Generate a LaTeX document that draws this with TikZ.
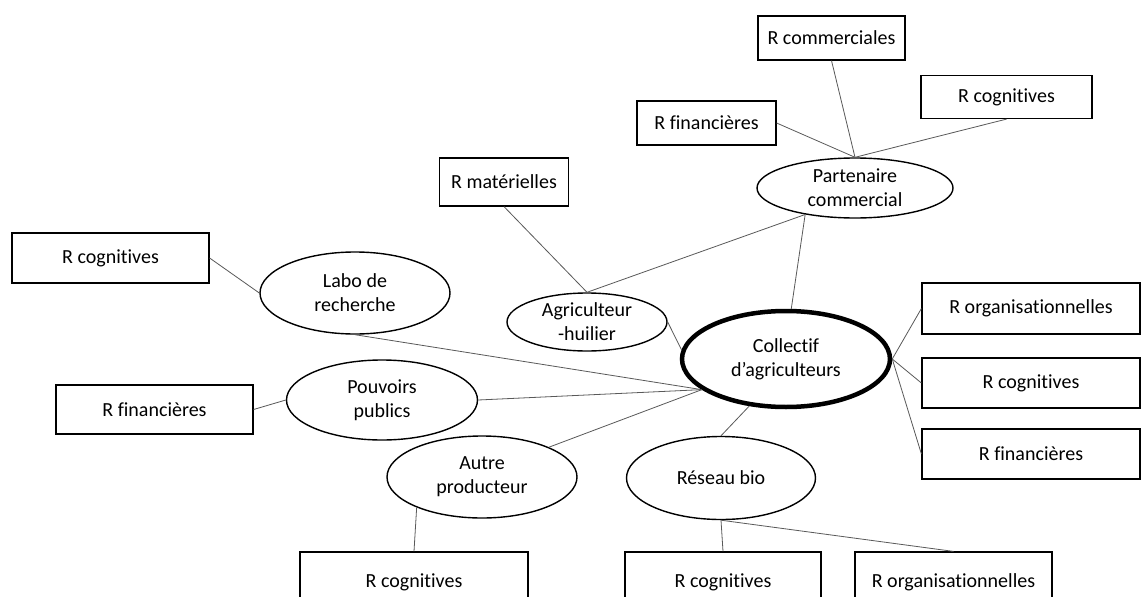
\documentclass[tikz,border=0pt]{standalone}
\usepackage{fontspec}
\setmainfont[Ligatures=NoCommon]{Carlito}
\usepackage{tikz}
\usetikzlibrary{shapes.geometric,positioning,calc}

\tikzset{
  res/.style={draw, rectangle, line width=1.2pt, inner sep=0pt, font=\fontsize{20pt}{24pt}\selectfont},
  actor/.style={draw, ellipse, line width=1.4pt, inner sep=0pt, align=center, font=\fontsize{20pt}{24pt}\selectfont},
  link/.style={draw=black!65, line width=0.8pt}
}

\begin{document}
\begin{tikzpicture}[x=1pt, y=-1pt]

% page frame
\clip (0,0) rectangle (1141,597);
\fill[white] (0,0) rectangle (1141,597);

% Central actor
\node[actor, line width=4.5pt, minimum width=208pt, minimum height=96pt] (collectif) at (786, 359) {Collectif\\d’agriculteurs};

% Partner actors
\node[actor, minimum width=196pt, minimum height=60pt] (partner) at (855, 188) {Partenaire\\commercial};
\node[actor, minimum width=160pt, minimum height=58pt] (agri) at (587, 322) {Agriculteur\\-huilier};
\node[actor, minimum width=190pt, minimum height=82pt] (labo) at (355, 293) {Labo de\\recherche};
\node[actor, minimum width=191pt, minimum height=80pt] (pouvoirs) at (382, 400) {Pouvoirs\\publics};
\node[actor, minimum width=190pt, minimum height=82pt] (autre) at (482, 477) {Autre\\producteur};
\node[actor, minimum width=189pt, minimum height=83pt] (reseau) at (721, 478) {Réseau bio};

% Resources (top)
\node[res, minimum width=147pt, minimum height=44pt] (rcomT) at (831.5, 38) {R commerciales};
\node[res, minimum width=139pt, minimum height=44pt] (rfinT) at (706.5, 123) {R financières};
\node[res, minimum width=171pt, minimum height=43pt] (rcogT) at (1006.5, 97) {R cognitives};
\node[res, minimum width=129pt, minimum height=48pt] (rmat) at (504, 182) {R matérielles};

% Resources (left)
\node[res, minimum width=197pt, minimum height=50pt] (rcogL) at (110.5, 258) {R cognitives};
\node[res, minimum width=197pt, minimum height=49pt] (rfinL) at (154.5, 409.5) {R financières};

% Resources (right)
\node[res, minimum width=218pt, minimum height=51pt] (rorgR) at (1031, 308.5) {R organisationnelles};
\node[res, minimum width=218pt, minimum height=50pt] (rcogR) at (1031, 383) {R cognitives};
\node[res, minimum width=218pt, minimum height=50pt] (rfinR) at (1031, 454) {R financières};

% Resources (bottom, cut by the page)
\node[res, minimum width=228pt, minimum height=60pt] (rcogB) at (414, 582) {R cognitives};
\node[res, minimum width=196pt, minimum height=60pt] (rcogC) at (723, 582) {R cognitives};
\node[res, minimum width=197pt, minimum height=60pt] (rorgB) at (953.5, 582) {R organisationnelles};

% Links to the collective
\draw[link] (partner.208) -- (collectif.84);
\draw[link] (agri.east) -- (collectif.175);
\draw[link] (labo.south) -- (collectif.200);
\draw[link] (pouvoirs.east) -- (collectif.200);
\draw[link] (autre.24) -- (collectif.200);
\draw[link] (reseau.north) -- (collectif.232);
\draw[link] (collectif.east) -- (rorgR.west);
\draw[link] (collectif.east) -- (rcogR.west);
\draw[link] (collectif.east) -- (rfinR.west);

% Links between actors
\draw[link] (partner.208) -- (agri.north);

% Links to resources
\draw[link] (rcomT.south) -- (partner.north);
\draw[link] (rfinT.east) -- (partner.north);
\draw[link] (rcogT.south) -- (partner.north);
\draw[link] (rmat.south) -- (agri.north);
\draw[link] (rcogL.east) -- (labo.west);
\draw[link] (rfinL.east) -- (pouvoirs.west);
\draw[link] (autre.205) -- (rcogB.north);
\draw[link] (reseau.south) -- (rcogC.north);
\draw[link] (reseau.south) -- (rorgB.north);

\end{tikzpicture}
\end{document}
